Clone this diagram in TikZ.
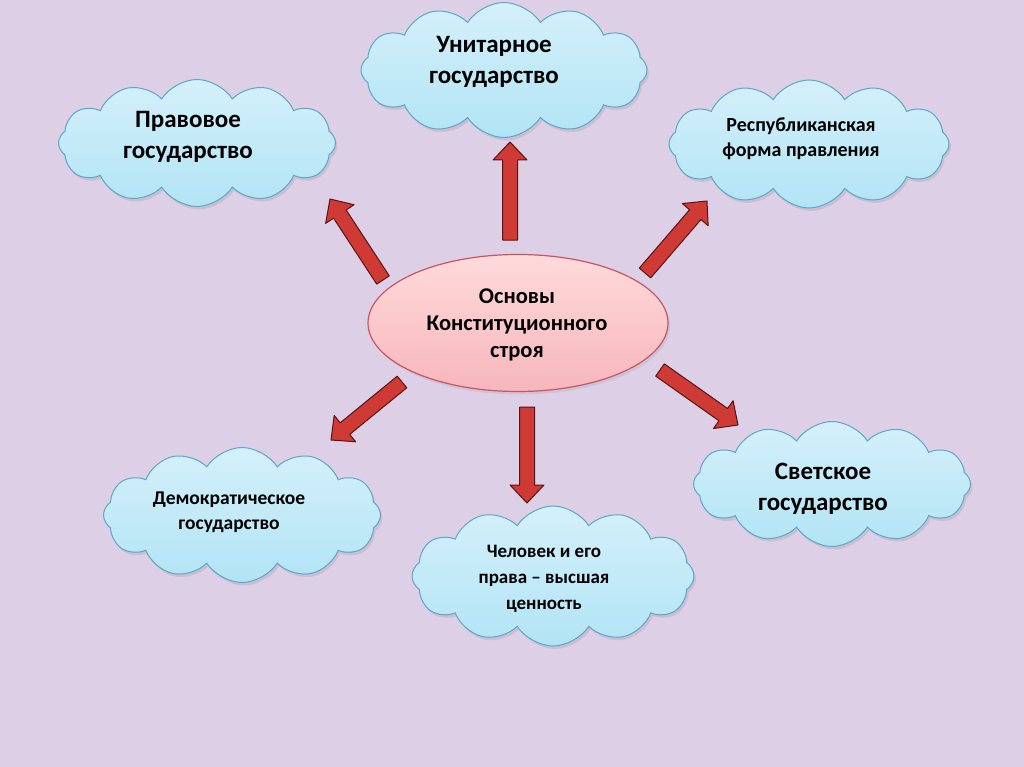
\documentclass[tikz,border=0pt]{standalone}
\usepackage{fontspec}
\setmainfont{Carlito}
\usetikzlibrary{shapes.symbols,shapes.geometric,calc,shadows}
\definecolor{bg}{RGB}{220,207,230}
\definecolor{cloudtop}{RGB}{212,240,250}
\definecolor{cloudbot}{RGB}{178,228,245}
\definecolor{cloudline}{RGB}{95,165,200}
\definecolor{elltop}{RGB}{255,218,218}
\definecolor{ellbot}{RGB}{246,182,188}
\definecolor{ellline}{RGB}{200,85,100}
\definecolor{arrfill}{RGB}{208,58,52}
\definecolor{arrline}{RGB}{85,20,22}
\newcommand\blockarrow[2]{%
  \coordinate (ah) at ($(#2)!18pt!(#1)$);
  \draw[blockarr] ($(#1)!7.5pt!90:(#2)$) -- ($(ah)!7.5pt!90:(#2)$) -- ($(ah)!17pt!90:(#2)$) -- (#2)
    -- ($(ah)!17pt!-90:(#2)$) -- ($(ah)!7.5pt!-90:(#2)$) -- ($(#1)!7.5pt!-90:(#2)$) -- cycle;
}
\begin{document}
\begin{tikzpicture}[x=1pt,y=-1pt,
  cloudbox/.style={cloud, cloud puffs=12, cloud puff arc=115, cloud ignores aspect,
    draw=cloudline, line width=1pt, top color=cloudtop, bottom color=cloudbot,
    inner sep=0pt, drop shadow={opacity=0.2, shadow xshift=2pt, shadow yshift=-3pt}},
  bigtxt/.style={font=\fontsize{25}{31}\selectfont\bfseries, align=center, text=black},
  smalltxt/.style={font=\fontsize{19.5}{25}\selectfont\bfseries, align=center, text=black},
  blockarr/.style={fill=arrfill, draw=arrline, line width=1pt, line join=round},
]
\fill[bg] (0,0) rectangle (1024,767);
\useasboundingbox (0,0) rectangle (1024,767);

% clouds
\node[cloudbox, minimum width=286pt, minimum height=135pt] (unit) at (504,70) {};
\node[bigtxt] (unitT) at (494,62) {Унитарное\\государство};

\node[cloudbox, minimum width=277pt, minimum height=127pt] (prav) at (197,143) {};
\node[bigtxt] (pravT) at (188,137) {Правовое\\государство};

\node[cloudbox, minimum width=280pt, minimum height=128pt] (resp) at (809,144) {};
\node[smalltxt, font=\fontsize{20}{25}\selectfont\bfseries] (respT) at (801,139) {Республиканская\\форма правления};

\node[cloudbox, minimum width=277pt, minimum height=125pt] (svet) at (832,484) {};
\node[bigtxt] (svetT) at (823,489) {Светское\\государство};

\node[cloudbox, minimum width=277pt, minimum height=135pt] (demo) at (242,515) {};
\node[smalltxt] (demoT) at (229,512) {Демократическое\\государство};

\node[cloudbox, minimum width=282pt, minimum height=140pt] (chel) at (553,576) {};
\node[smalltxt, font=\fontsize{19}{26}\selectfont\bfseries] (chelT) at (544,579) {Человек и его\\права – высшая\\ценность};

% centre ellipse
\node[ellipse, draw=ellline, line width=1.2pt, top color=elltop, bottom color=ellbot,
  minimum width=300pt, minimum height=137pt, inner sep=0pt,
  drop shadow={opacity=0.15, shadow xshift=2pt, shadow yshift=-3pt}] (osn) at (518,323) {};
\node[font=\fontsize{22.5}{27}\selectfont\bfseries, align=center] (osnT) at (517,325) {Основы\\Конституционного\\строя};

% arrow ends
\coordinate (aUt) at (510,240); \coordinate (aUh) at (510,142);
\coordinate (aULt) at (383,280); \coordinate (aULh) at (330,199);
\coordinate (aURt) at (645,273); \coordinate (aURh) at (707,201);
\coordinate (aLLt) at (402,382); \coordinate (aLLh) at (331,440);
\coordinate (aDt) at (527,407); \coordinate (aDh) at (527,503);
\coordinate (aLRt) at (660,370); \coordinate (aLRh) at (738,425);

\blockarrow{aUt}{aUh}
\blockarrow{aULt}{aULh}
\blockarrow{aURt}{aURh}
\blockarrow{aLLt}{aLLh}
\blockarrow{aDt}{aDh}
\blockarrow{aLRt}{aLRh}
\end{tikzpicture}
\end{document}
